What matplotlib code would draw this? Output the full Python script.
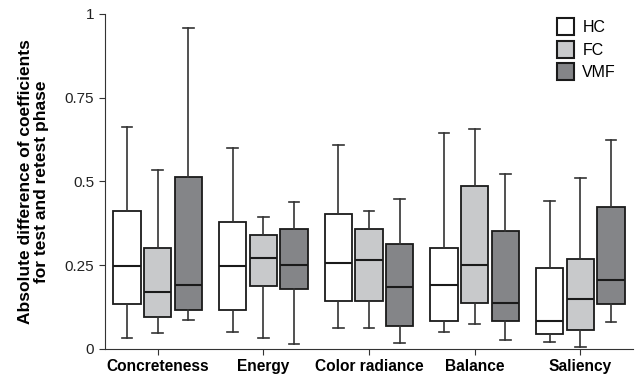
import matplotlib
matplotlib.use("Agg")
import matplotlib.pyplot as plt
from matplotlib.patches import Patch

plt.rcParams['font.family'] = ['Liberation Sans', 'DejaVu Sans']

categories = ["Concreteness", "Energy", "Color radiance", "Balance", "Saliency"]
groups = ["HC", "FC", "VMF"]
colors = ["#ffffff", "#c8c9cb", "#848588"]

# (whisker low, Q1, median, Q3, whisker high) per category
hc = [(0.032, 0.133, 0.248, 0.411, 0.661),
      (0.050, 0.115, 0.248, 0.379, 0.601),
      (0.063, 0.143, 0.257, 0.402, 0.610),
      (0.050, 0.084, 0.191, 0.302, 0.646),
      (0.022, 0.044, 0.084, 0.241, 0.441)]
fc = [(0.047, 0.095, 0.171, 0.302, 0.534),
      (0.032, 0.188, 0.272, 0.340, 0.395),
      (0.063, 0.143, 0.265, 0.357, 0.413),
      (0.075, 0.136, 0.251, 0.486, 0.656),
      (0.007, 0.056, 0.149, 0.268, 0.509)]
vmf = [(0.087, 0.115, 0.192, 0.513, 0.957),
       (0.016, 0.178, 0.251, 0.357, 0.438),
       (0.019, 0.068, 0.186, 0.312, 0.448),
       (0.028, 0.084, 0.136, 0.351, 0.523),
       (0.081, 0.133, 0.206, 0.423, 0.624)]

fig = plt.figure(figsize=(6.35, 3.76), dpi=100)
ax = fig.add_axes([0.165, 0.072, 0.832, 0.891])

offset = 0.29
width = 0.26
for gi, (data, col) in enumerate(zip([hc, fc, vmf], colors)):
    stats = []
    for lo, q1, med, q3, hi in data:
        stats.append(dict(whislo=lo, q1=q1, med=med, q3=q3, whishi=hi, fliers=[]))
    pos = [i + 1 + (gi - 1) * offset for i in range(len(categories))]
    ax.bxp(stats, positions=pos, widths=width, patch_artist=True,
           showfliers=False, capwidths=0.1,
           boxprops=dict(facecolor=col, edgecolor="#1a1a1a", linewidth=1.3),
           medianprops=dict(color="#1a1a1a", linewidth=1.5),
           whiskerprops=dict(color="#333333", linewidth=1.2),
           capprops=dict(color="#333333", linewidth=1.2))

ax.set_xlim(0.5, 5.5)
ax.set_ylim(0, 1)
ax.set_xticks(range(1, 6))
ax.set_xticklabels(categories, fontsize=11.2, fontweight="bold")
ax.set_yticks([0, 0.25, 0.5, 0.75, 1])
ax.set_yticklabels(["0", "0.25", "0.5", "0.75", "1"], fontsize=11, color="#222222")
ax.spines["top"].set_visible(False)
ax.spines["right"].set_visible(False)
ax.spines["left"].set_color("#333333")
ax.spines["bottom"].set_color("#333333")
ax.tick_params(axis="both", length=4, color="#333333")
ax.set_ylabel("Absolute difference of coefficients\nfor test and retest phase",
              fontsize=12.5, fontweight="bold", labelpad=11, linespacing=1.1,
              multialignment="center")

handles = [Patch(facecolor=c, edgecolor="#1a1a1a", linewidth=1.5) for c in colors]
ax.legend(handles, groups, loc="upper right", bbox_to_anchor=(0.995, 1.03),
          frameon=False, fontsize=11.5, handlelength=1.1, handleheight=1.25,
          handletextpad=0.5, labelspacing=0.35)

fig.savefig("out.png", dpi=100)
